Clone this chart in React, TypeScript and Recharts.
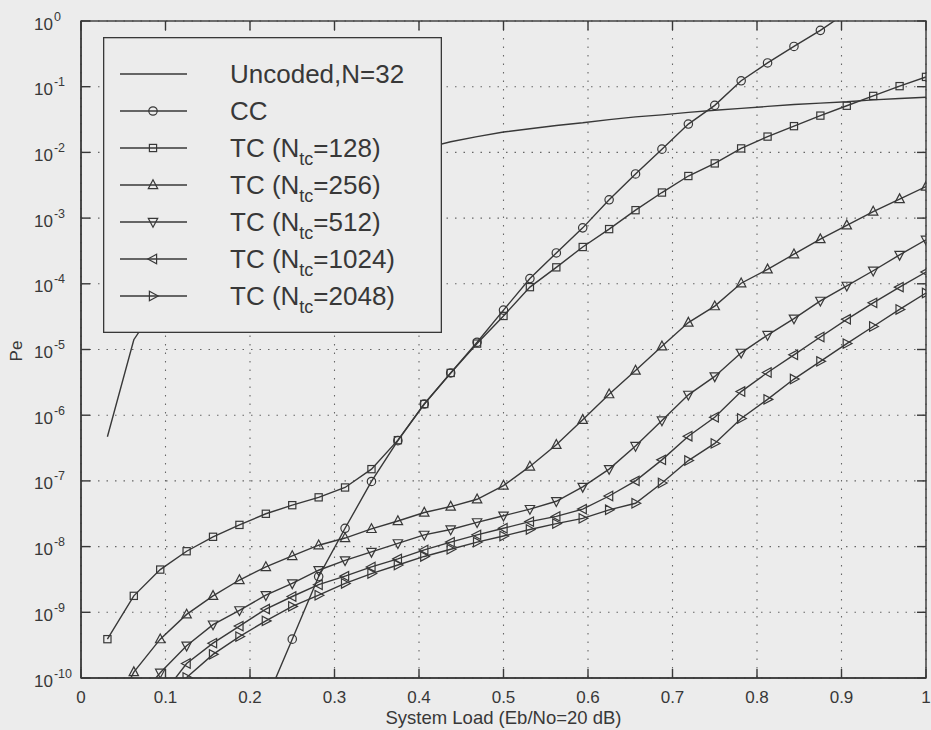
import { LineChart, Line, XAxis, YAxis, CartesianGrid, Legend, Label } from "recharts";

const INK = "#383838";
const BG = "#ececec";
const FONT = '"Liberation Sans", Arial, Helvetica, sans-serif';

const W = 931;
const H = 730;
const MARGIN = { top: 21, right: 5, bottom: 12, left: 21 };
const Y_AXIS_W = 60;
const X_AXIS_H = 40;
const PLOT_LEFT = MARGIN.left + Y_AXIS_W;
const PLOT_TOP = MARGIN.top;
const PLOT_RIGHT = W - MARGIN.right;
const PLOT_BOTTOM = H - MARGIN.bottom - X_AXIS_H;
const TICK = 9;

// system load = K/32 users
const loads = [
  0.03125, 0.0625, 0.09375, 0.125, 0.15625, 0.1875, 0.21875, 0.25,
  0.28125, 0.3125, 0.34375, 0.375, 0.40625, 0.4375, 0.46875, 0.5,
  0.53125, 0.5625, 0.59375, 0.625, 0.65625, 0.6875, 0.71875, 0.75,
  0.78125, 0.8125, 0.84375, 0.875, 0.90625, 0.9375, 0.96875, 1,
];

const uncoded = [
  4.7e-7, 1.41e-5, 5.6e-5, 1.58e-4, 3.8e-4, 7.8e-4, 1.38e-3, 2.29e-3,
  3.47e-3, 5.0e-3, 6.9e-3, 9.1e-3, 1.15e-2, 1.45e-2, 1.74e-2, 2.04e-2,
  2.29e-2, 2.57e-2, 2.82e-2, 3.16e-2, 3.47e-2, 3.72e-2, 4.07e-2, 4.37e-2,
  4.68e-2, 5.01e-2, 5.37e-2, 5.62e-2, 5.89e-2, 6.31e-2, 6.61e-2, 6.92e-2,
];

const cc = [
  null, null, null, null, null, null, 4.4e-11, 3.9e-10,
  3.5e-9, 1.9e-8, 9.8e-8, 4.1e-7, 1.48e-6, 4.4e-6, 1.29e-5, 3.98e-5,
  1.2e-4, 2.95e-4, 7.1e-4, 1.9e-3, 4.7e-3, 1.12e-2, 2.7e-2, 5.2e-2,
  1.23e-1, 2.3e-1, 4.1e-1, 7.2e-1, 1.35, null, null, null,
];

const tc128 = [
  3.9e-10, 1.78e-9, 4.47e-9, 8.5e-9, 1.41e-8, 2.14e-8, 3.16e-8, 4.27e-8,
  5.62e-8, 7.94e-8, 1.51e-7, 4.17e-7, 1.48e-6, 4.4e-6, 1.23e-5, 3.24e-5,
  8.9e-5, 1.78e-4, 3.63e-4, 6.8e-4, 1.32e-3, 2.45e-3, 4.37e-3, 6.8e-3,
  1.15e-2, 1.74e-2, 2.51e-2, 3.63e-2, 5.13e-2, 7.24e-2, 1.02e-1, 1.41e-1,
];

const tc256 = [
  2.0e-11, 1.23e-10, 3.9e-10, 9.3e-10, 1.78e-9, 3.1e-9, 4.9e-9, 7.2e-9,
  1.05e-8, 1.35e-8, 1.86e-8, 2.45e-8, 3.3e-8, 4.07e-8, 5.25e-8, 8.5e-8,
  1.66e-7, 3.55e-7, 8.5e-7, 2.09e-6, 4.79e-6, 1.12e-5, 2.57e-5, 4.57e-5,
  1.02e-4, 1.66e-4, 2.82e-4, 4.79e-4, 7.76e-4, 1.26e-3, 1.95e-3, 3.02e-3,
];

const tc512 = [
  null, 4.0e-11, 1.2e-10, 3.1e-10, 6.5e-10, 1.07e-9, 1.82e-9, 2.75e-9,
  4.37e-9, 6.17e-9, 8.3e-9, 1.12e-8, 1.51e-8, 1.82e-8, 2.34e-8, 2.95e-8,
  3.72e-8, 4.9e-8, 8.1e-8, 1.51e-7, 3.39e-7, 8.3e-7, 2.04e-6, 3.89e-6,
  8.9e-6, 1.66e-5, 2.95e-5, 5.5e-5, 9.3e-5, 1.58e-4, 2.75e-4, 4.68e-4,
];

const tc1024 = [
  null, null, 5.0e-11, 1.66e-10, 3.39e-10, 6.17e-10, 1.12e-9, 1.74e-9,
  2.63e-9, 3.55e-9, 4.9e-9, 6.5e-9, 8.9e-9, 1.17e-8, 1.51e-8, 1.9e-8,
  2.4e-8, 2.88e-8, 3.72e-8, 5.89e-8, 1.0e-7, 2.09e-7, 4.79e-7, 9.3e-7,
  2.29e-6, 4.47e-6, 8.3e-6, 1.55e-5, 2.88e-5, 5.13e-5, 8.9e-5, 1.51e-4,
];

const tc2048 = [
  null, null, 4.0e-11, 1.02e-10, 2.29e-10, 4.27e-10, 7.4e-10, 1.23e-9,
  1.82e-9, 2.75e-9, 3.89e-9, 5.25e-9, 7.08e-9, 9.1e-9, 1.17e-8, 1.45e-8,
  1.82e-8, 2.24e-8, 2.69e-8, 3.63e-8, 4.57e-8, 9.3e-8, 2.04e-7, 3.72e-7,
  8.9e-7, 1.74e-6, 3.55e-6, 6.6e-6, 1.23e-5, 2.24e-5, 4.07e-5, 7.24e-5,
];

const xTicks = [0, 0.1, 0.2, 0.3, 0.4, 0.5, 0.6, 0.7, 0.8, 0.9, 1];
const yTicks = [1e-10, 1e-9, 1e-8, 1e-7, 1e-6, 1e-5, 1e-4, 1e-3, 1e-2, 1e-1, 1];

type MarkerKind = "none" | "circle" | "square" | "up" | "down" | "left" | "right";

const series: { key: string; label: string; sub?: string; rest?: string; marker: MarkerKind; values: (number | null)[] }[] = [
  { key: "uncoded", label: "Uncoded,N=32", marker: "none", values: uncoded },
  { key: "cc", label: "CC", marker: "circle", values: cc },
  { key: "tc128", label: "TC (N", sub: "tc", rest: "=128)", marker: "square", values: tc128 },
  { key: "tc256", label: "TC (N", sub: "tc", rest: "=256)", marker: "up", values: tc256 },
  { key: "tc512", label: "TC (N", sub: "tc", rest: "=512)", marker: "down", values: tc512 },
  { key: "tc1024", label: "TC (N", sub: "tc", rest: "=1024)", marker: "left", values: tc1024 },
  { key: "tc2048", label: "TC (N", sub: "tc", rest: "=2048)", marker: "right", values: tc2048 },
];

const data = loads.map((x, i) => {
  const row: Record<string, number | null> = { x };
  series.forEach((s) => (row[s.key] = s.values[i]));
  return row;
});

function Marker({ kind, cx, cy }: { kind: MarkerKind; cx: number; cy: number }) {
  const p = { fill: "none", stroke: INK, strokeWidth: 1.2 };
  if (kind === "circle") return <circle cx={cx} cy={cy} r={4.2} {...p} />;
  if (kind === "square") return <rect x={cx - 3.6} y={cy - 3.6} width={7.2} height={7.2} {...p} />;
  if (kind === "up") return <polygon points={`${cx},${cy - 5.2} ${cx - 4.7},${cy + 3.6} ${cx + 4.7},${cy + 3.6}`} {...p} />;
  if (kind === "down") return <polygon points={`${cx},${cy + 5.2} ${cx - 4.7},${cy - 3.6} ${cx + 4.7},${cy - 3.6}`} {...p} />;
  if (kind === "left") return <polygon points={`${cx - 5.2},${cy} ${cx + 3.6},${cy - 4.7} ${cx + 3.6},${cy + 4.7}`} {...p} />;
  if (kind === "right") return <polygon points={`${cx + 5.2},${cy} ${cx - 3.6},${cy - 4.7} ${cx - 3.6},${cy + 4.7}`} {...p} />;
  return null;
}

// left tick: label + inward tick, plus the inward tick on the right side of the box
const YTick = (props: any) => {
  const x = Number(props.x);
  const y = Number(props.y);
  const exp = Math.round(Math.log10(props.payload.value));
  return (
    <g>
      <path d={`M${x},${y}H${x + TICK}`} stroke={INK} strokeWidth={1.4} fill="none" />
      <path d={`M${PLOT_RIGHT},${y}H${PLOT_RIGHT - TICK}`} stroke={INK} strokeWidth={1.4} fill="none" />
      <text x={x - 47} y={y + 8.5} fontSize={17} fill={INK} stroke="none" fontFamily={FONT}>
        10
        <tspan dx={1} dy={-9} fontSize={12.5}>
          {String(exp)}
        </tspan>
      </text>
    </g>
  );
};

// bottom tick: label + inward tick, plus the inward tick on the top side of the box
const XTick = (props: any) => {
  const x = Number(props.x);
  const y = Number(props.y);
  return (
    <g>
      <path d={`M${x},${y}V${y - TICK}`} stroke={INK} strokeWidth={1.4} fill="none" />
      <path d={`M${x},${PLOT_TOP}V${PLOT_TOP + TICK}`} stroke={INK} strokeWidth={1.4} fill="none" />
      <text x={x} y={y + 25} textAnchor="middle" fontSize={17} fill={INK} stroke="none" fontFamily={FONT}>
        {props.payload.value}
      </text>
    </g>
  );
};

function LegendBox() {
  return (
    <svg width={339} height={296} style={{ display: "block" }}>
      <rect x={0.65} y={0.65} width={337.7} height={294.7} fill={BG} stroke={INK} strokeWidth={1.3} />
      {series.map((s, i) => {
        const cy = 37 + i * 37;
        return (
          <g key={s.key}>
            <line x1={17} x2={84} y1={cy} y2={cy} stroke={INK} strokeWidth={1.3} />
            <Marker kind={s.marker} cx={50} cy={cy} />
            <text x={127} y={cy + 9} fontSize={26} fill={INK} fontFamily={FONT}>
              {s.label}
              {s.sub && (
                <tspan dy={8} fontSize={18}>
                  {s.sub}
                </tspan>
              )}
              {s.rest && (
                <tspan dy={-8} fontSize={26}>
                  {s.rest}
                </tspan>
              )}
            </text>
          </g>
        );
      })}
    </svg>
  );
}

export default function App() {
  return (
    <div style={{ position: "absolute", left: 0, top: 0, width: W, height: H, background: BG, fontFamily: FONT }}>
      <LineChart width={W} height={H} data={data} margin={MARGIN}>
        <CartesianGrid
          stroke="#666"
          strokeWidth={1.1}
          strokeDasharray="1.5 7"
          horizontalValues={yTicks}
          verticalValues={xTicks}
        />
        <XAxis
          dataKey="x"
          type="number"
          domain={[0, 1]}
          ticks={xTicks}
          interval={0}
          allowDataOverflow
          height={X_AXIS_H}
          stroke={INK}
          strokeWidth={1.3}
          tickSize={0}
          tickMargin={0}
          tickLine={false}
          tick={<XTick />}
        >
          <Label
            content={(p: any) => (
              <text
                x={p.viewBox.x + p.viewBox.width / 2}
                y={p.viewBox.y + 45.5}
                textAnchor="middle"
                fontSize={18.5}
                fill={INK}
                fontFamily={FONT}
              >
                System Load (Eb/No=20 dB)
              </text>
            )}
          />
        </XAxis>
        <YAxis
          type="number"
          scale="log"
          domain={[1e-10, 1]}
          ticks={yTicks}
          interval={0}
          allowDataOverflow
          width={Y_AXIS_W}
          stroke={INK}
          strokeWidth={1.3}
          tickSize={0}
          tickMargin={0}
          tickLine={false}
          tick={<YTick />}
        >
          <Label
            content={(p: any) => {
              const cx = p.viewBox.x - 5;
              const cy = p.viewBox.y + p.viewBox.height / 2 + 1.5;
              return (
                <text
                  x={cx}
                  y={cy}
                  transform={`rotate(-90, ${cx}, ${cy})`}
                  textAnchor="middle"
                  dominantBaseline="central"
                  fontSize={17}
                  fill={INK}
                  fontFamily={FONT}
                >
                  Pe
                </text>
              );
            }}
          />
        </YAxis>
        {series.map((s) => (
          <Line
            key={s.key}
            dataKey={s.key}
            type="linear"
            stroke={INK}
            strokeWidth={1.4}
            isAnimationActive={false}
            connectNulls={false}
            dot={
              s.marker === "none"
                ? false
                : (p: any) =>
                    p.cx == null || p.cy == null || p.value == null ? (
                      <g key={`${s.key}-${p.index}`} />
                    ) : (
                      <g key={`${s.key}-${p.index}`}>
                        <Marker kind={s.marker} cx={p.cx} cy={p.cy} />
                      </g>
                    )
            }
            activeDot={false}
          />
        ))}
        <Legend
          layout="vertical"
          align="center"
          verticalAlign="middle"
          wrapperStyle={{ left: 103, top: 37, width: 339, height: 296, margin: 0, padding: 0 }}
          content={() => <LegendBox />}
        />
      </LineChart>
      {/* axes box drawn on top of the chart */}
      <svg
        width={W}
        height={H}
        style={{ position: "absolute", left: 0, top: 0, pointerEvents: "none" }}
      >
        <rect
          x={PLOT_LEFT}
          y={PLOT_TOP}
          width={PLOT_RIGHT - PLOT_LEFT}
          height={PLOT_BOTTOM - PLOT_TOP}
          fill="none"
          stroke={INK}
          strokeWidth={1.4}
        />
      </svg>
    </div>
  );
}
